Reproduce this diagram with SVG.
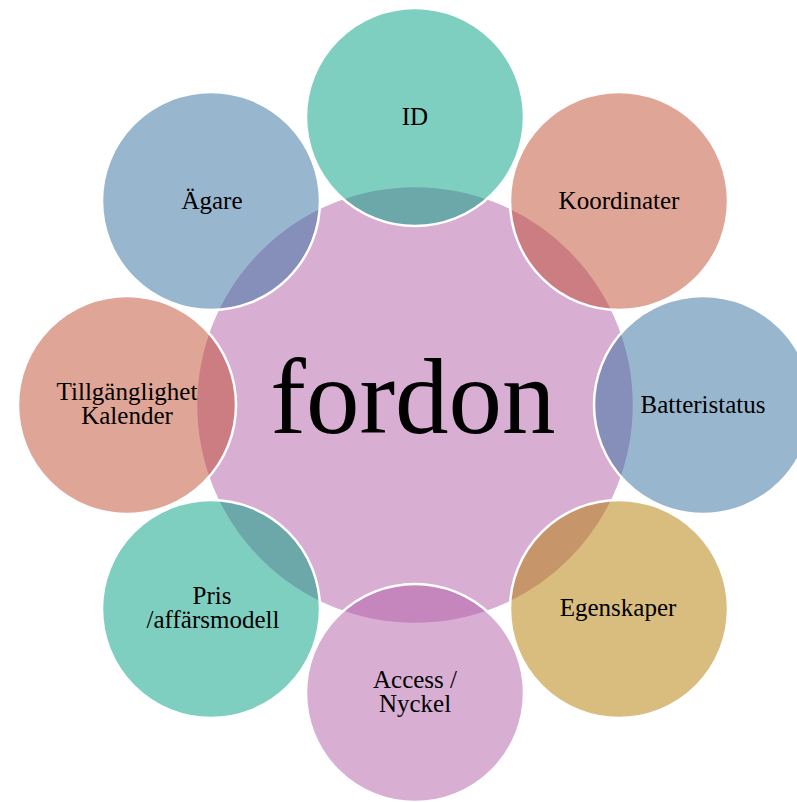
<svg xmlns="http://www.w3.org/2000/svg" width="797" height="802" viewBox="0 0 797 802">
<style>
.c{stroke:#ffffff;stroke-width:2.5;fill-opacity:0.5}
.t{font-family:"Liberation Serif","Times New Roman",serif;font-size:25px;fill:#000000;text-anchor:middle}
.big{font-family:"Liberation Serif","Times New Roman",serif;font-size:107px;fill:#000000;text-anchor:middle}
.pink{fill:#b15da7}.teal{fill:#009f81}.red{fill:#bf4b2f}.blue{fill:#316f9f}.gold{fill:#b37b00}
</style>
<rect width="797" height="802" fill="#ffffff"/>
<g id="center">
<circle cx="415" cy="405" r="219" fill="#d8aed3" stroke="#ffffff" stroke-width="2.5"/>
<text class="big" x="413" y="433">fordon</text>
</g>
<g id="n-id">
<circle class="c teal" cx="415" cy="117" r="109"/>
<text class="t" x="415" y="125">ID</text>
</g>
<g id="n-koordinater">
<circle class="c red" cx="619" cy="201" r="109"/>
<text class="t" x="619" y="209">Koordinater</text>
</g>
<g id="n-batteristatus">
<circle class="c blue" cx="703" cy="405" r="109"/>
<text class="t" x="703" y="413">Batteristatus</text>
</g>
<g id="n-egenskaper">
<circle class="c gold" cx="619" cy="609" r="109"/>
<text class="t" x="618" y="616">Egenskaper</text>
</g>
<g id="n-access">
<circle class="c pink" cx="415" cy="693" r="109"/>
<text class="t" x="415" y="688">Access /</text>
<text class="t" x="415" y="712">Nyckel</text>
</g>
<g id="n-pris">
<circle class="c teal" cx="211" cy="609" r="109"/>
<text class="t" x="212" y="604">Pris</text>
<text class="t" x="213" y="628">/affärsmodell</text>
</g>
<g id="n-tillganglighet">
<circle class="c red" cx="127" cy="405" r="109"/>
<text class="t" x="127" y="400">Tillgänglighet</text>
<text class="t" x="127" y="424">Kalender</text>
</g>
<g id="n-agare">
<circle class="c blue" cx="211" cy="201" r="109"/>
<text class="t" x="212" y="209">Ägare</text>
</g>
<g id="connectors"></g>
</svg>
